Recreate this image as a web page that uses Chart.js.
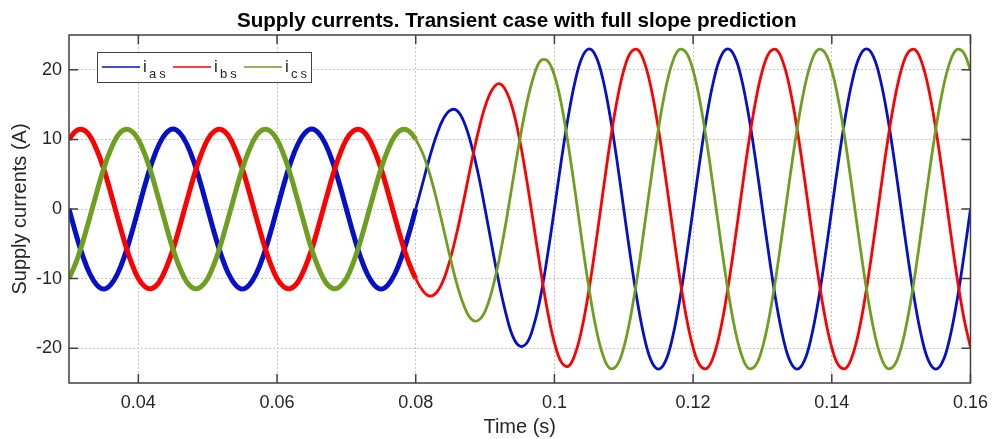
<!DOCTYPE html>
<html>
<head>
<meta charset="utf-8">
<title>Supply currents</title>
<script src="https://cdn.jsdelivr.net/npm/chart.js@4.4.1/dist/chart.umd.min.js"></script>
<style>
    body { margin: 0; background: #fff; }
    #wrap { width: 997px; height: 439px; }
</style>
</head>
<body>
<div id="wrap"><canvas id="currents" width="997" height="439"></canvas></div>
<script>
// time samples (s), one every ms
var TIME = [
    0.030, 0.031, 0.032, 0.033, 0.034, 0.035, 0.036, 0.037, 0.038, 0.039,
    0.040, 0.041, 0.042, 0.043, 0.044, 0.045, 0.046, 0.047, 0.048, 0.049,
    0.050, 0.051, 0.052, 0.053, 0.054, 0.055, 0.056, 0.057, 0.058, 0.059,
    0.060, 0.061, 0.062, 0.063, 0.064, 0.065, 0.066, 0.067, 0.068, 0.069,
    0.070, 0.071, 0.072, 0.073, 0.074, 0.075, 0.076, 0.077, 0.078, 0.079,
    0.080, 0.081, 0.082, 0.083, 0.084, 0.085, 0.086, 0.087, 0.088, 0.089,
    0.090, 0.091, 0.092, 0.093, 0.094, 0.095, 0.096, 0.097, 0.098, 0.099,
    0.100, 0.101, 0.102, 0.103, 0.104, 0.105, 0.106, 0.107, 0.108, 0.109,
    0.110, 0.111, 0.112, 0.113, 0.114, 0.115, 0.116, 0.117, 0.118, 0.119,
    0.120, 0.121, 0.122, 0.123, 0.124, 0.125, 0.126, 0.127, 0.128, 0.129,
    0.130, 0.131, 0.132, 0.133, 0.134, 0.135, 0.136, 0.137, 0.138, 0.139,
    0.140, 0.141, 0.142, 0.143, 0.144, 0.145, 0.146, 0.147, 0.148, 0.149,
    0.150, 0.151, 0.152, 0.153, 0.154, 0.155, 0.156, 0.157, 0.158, 0.159,
    0.160
];

var IAS = [
    0, -3.6, -6.8, -9.3, -10.9, -11.5, -10.9, -9.3, -6.8, -3.6,
    0, 3.6, 6.8, 9.3, 10.9, 11.5, 10.9, 9.3, 6.8, 3.6,
    0, -3.6, -6.8, -9.3, -10.9, -11.5, -10.9, -9.3, -6.8, -3.6,
    0, 3.6, 6.8, 9.3, 10.9, 11.5, 10.9, 9.3, 6.8, 3.6,
    0, -3.6, -6.8, -9.3, -10.9, -11.5, -10.9, -9.3, -6.8, -3.6,
    0, 3.7, 7.4, 10.6, 13.0, 14.2, 14.1, 12.4, 9.3, 5.1,
    0, -5.4, -10.6, -15.0, -18.3, -19.7, -19.3, -16.8, -12.6, -6.7,
    0, 7.0, 13.3, 18.4, 21.8, 23.0, 21.9, 18.6, 13.5, 7.1,
    0, -7.1, -13.5, -18.6, -21.9, -23.0, -21.9, -18.6, -13.5, -7.1,
    0, 7.1, 13.5, 18.6, 21.9, 23.0, 21.9, 18.6, 13.5, 7.1,
    0, -7.1, -13.5, -18.6, -21.9, -23.0, -21.9, -18.6, -13.5, -7.1,
    0, 7.1, 13.5, 18.6, 21.9, 23.0, 21.9, 18.6, 13.5, 7.1,
    0, -7.1, -13.5, -18.6, -21.9, -23.0, -21.9, -18.6, -13.5, -7.1,
    0
];

var IBS = [
    10.0, 11.2, 11.4, 10.5, 8.5, 5.8, 2.4, -1.2, -4.7, -7.7,
    -10.0, -11.2, -11.4, -10.5, -8.5, -5.8, -2.4, 1.2, 4.7, 7.7,
    10.0, 11.2, 11.4, 10.5, 8.5, 5.8, 2.4, -1.2, -4.7, -7.7,
    -10.0, -11.2, -11.4, -10.5, -8.5, -5.8, -2.4, 1.2, 4.7, 7.7,
    10.0, 11.2, 11.4, 10.5, 8.5, 5.8, 2.4, -1.2, -4.7, -7.7,
    -10.0, -11.7, -12.5, -12.0, -10.2, -7.1, -3.1, 1.6, 6.5, 11.0,
    14.7, 17.1, 18.0, 17.0, 14.3, 9.9, 4.2, -2.2, -8.7, -14.6,
    -19.2, -22.0, -22.6, -20.8, -17.0, -11.5, -4.8, 2.4, 9.4, 15.4,
    19.9, 22.5, 22.9, 21.0, 17.1, 11.5, 4.8, -2.4, -9.4, -15.4,
    -19.9, -22.5, -22.9, -21.0, -17.1, -11.5, -4.8, 2.4, 9.4, 15.4,
    19.9, 22.5, 22.9, 21.0, 17.1, 11.5, 4.8, -2.4, -9.4, -15.4,
    -19.9, -22.5, -22.9, -21.0, -17.1, -11.5, -4.8, 2.4, 9.4, 15.4,
    19.9, 22.5, 22.9, 21.0, 17.1, 11.5, 4.8, -2.4, -9.4, -15.4,
    -19.9
];

var ICS = [
    -10.0, -7.7, -4.7, -1.2, 2.4, 5.8, 8.5, 10.5, 11.4, 11.2,
    10.0, 7.7, 4.7, 1.2, -2.4, -5.8, -8.5, -10.5, -11.4, -11.2,
    -10.0, -7.7, -4.7, -1.2, 2.4, 5.8, 8.5, 10.5, 11.4, 11.2,
    10.0, 7.7, 4.7, 1.2, -2.4, -5.8, -8.5, -10.5, -11.4, -11.2,
    -10.0, -7.7, -4.7, -1.2, 2.4, 5.8, 8.5, 10.5, 11.4, 11.2,
    10.0, 8.0, 5.1, 1.4, -2.8, -7.1, -11.0, -14.0, -15.8, -16.0,
    -14.7, -11.7, -7.4, -2.0, 4.0, 9.9, 15.1, 19.0, 21.3, 21.3,
    19.2, 15.1, 9.2, 2.4, -4.8, -11.5, -17.1, -21.0, -22.9, -22.5,
    -19.9, -15.4, -9.4, -2.4, 4.8, 11.5, 17.1, 21.0, 22.9, 22.5,
    19.9, 15.4, 9.4, 2.4, -4.8, -11.5, -17.1, -21.0, -22.9, -22.5,
    -19.9, -15.4, -9.4, -2.4, 4.8, 11.5, 17.1, 21.0, 22.9, 22.5,
    19.9, 15.4, 9.4, 2.4, -4.8, -11.5, -17.1, -21.0, -22.9, -22.5,
    -19.9, -15.4, -9.4, -2.4, 4.8, 11.5, 17.1, 21.0, 22.9, 22.5,
    19.9
];

var SERIES_NAMES = ['as', 'bs', 'cs'];
var XTICKS = [0.04, 0.06, 0.08, 0.1, 0.12, 0.14, 0.16];
var YTICKS = [-20, -10, 0, 10, 20];

var BLUE = '#0510c8';
var RED = '#ff0000';
var GREEN = '#6f9f1f';
var TEXT = '#262626';

// before the step the ripple makes the trace look much thicker
function segWidth(ctx) {
    return ctx.p0DataIndex < 50 ? 5 : 2.8;
}

// box round the axes with inward ticks, like matlab
var axesBox = {
    id: 'axesBox',
    afterDatasetsDraw: function(chart) {
        var c = chart.ctx, a = chart.chartArea;
        var xs = chart.scales.x, ys = chart.scales.y;
        c.save();
        c.strokeStyle = '#404040';
        c.lineWidth = 1.5;
        c.strokeRect(a.left, a.top, a.right - a.left, a.bottom - a.top);
        c.beginPath();
        XTICKS.forEach(function(v) {
            var px = xs.getPixelForValue(v);
            c.moveTo(px, a.bottom); c.lineTo(px, a.bottom - 9);
            c.moveTo(px, a.top); c.lineTo(px, a.top + 9);
        });
        YTICKS.forEach(function(v) {
            var py = ys.getPixelForValue(v);
            c.moveTo(a.left, py); c.lineTo(a.left + 9, py);
            c.moveTo(a.right, py); c.lineTo(a.right - 9, py);
        });
        c.stroke();

        // title, centred on the axes
        c.fillStyle = '#000';
        c.font = 'bold 20.6px "Liberation Sans", Arial, sans-serif';
        c.textAlign = 'center';
        c.textBaseline = 'alphabetic';
        c.fillText('Supply currents. Transient case with full slope prediction', (a.left + a.right) / 2 - 3, 27);
        c.restore();
    }
};

// legend with subscripts
var subLegend = {
    id: 'subLegend',
    afterDraw: function(chart) {
        var c = chart.ctx;
        var bx = 97, by = 52, bw = 214, bh = 30;
        c.save();
        c.fillStyle = '#fff';
        c.fillRect(bx, by, bw, bh);
        c.strokeStyle = '#404040';
        c.lineWidth = 1;
        c.strokeRect(bx + 0.5, by + 0.5, bw, bh);
        var starts = [102, 173, 244];
        chart.data.datasets.forEach(function(ds, i) {
            var x0 = starts[i];
            c.strokeStyle = ds.borderColor;
            c.lineWidth = 1.5;
            c.beginPath();
            c.moveTo(x0, 67);
            c.lineTo(x0 + 38, 67);
            c.stroke();
            c.fillStyle = TEXT;
            c.textAlign = 'left';
            c.textBaseline = 'alphabetic';
            c.font = '17px "Liberation Sans", Arial, sans-serif';
            c.fillText('i', x0 + 41, 72);
            c.font = '13px "Liberation Sans", Arial, sans-serif';
            c.letterSpacing = '3px';
            c.fillText(SERIES_NAMES[i], x0 + 47, 78);
            c.letterSpacing = '0px';
        });
        c.restore();
    }
};

var ctx = document.querySelector('#currents');

var myChart = new Chart(ctx, {
    type: 'line',
    data: {
        labels: TIME,
        datasets: [{
            label: 'ias',
            data: IAS,
            borderColor: BLUE,
            order: 3
        }, {
            label: 'ibs',
            data: IBS,
            borderColor: RED,
            order: 2
        }, {
            label: 'ics',
            data: ICS,
            borderColor: GREEN,
            order: 1
        }]
    },
    options: {
        responsive: false,
        animation: false,
        layout: {
            padding: { top: 35, right: 19, left: 0, bottom: 0 }
        },
        elements: {
            point: { radius: 0 },
            line: { tension: 0.4, borderWidth: 3, fill: false }
        },
        datasets: {
            line: {
                segment: { borderWidth: segWidth }
            }
        },
        plugins: {
            legend: { display: false },
            title: { display: false },
            tooltip: { enabled: false }
        },
        scales: {
            x: {
                type: 'linear',
                min: 0.03,
                max: 0.16,
                afterBuildTicks: function(s) {
                    s.ticks = XTICKS.map(function(v) { return { value: v }; });
                },
                afterFit: function(s) { s.height = 56; },
                ticks: {
                    autoSkip: false,
                    maxRotation: 0,
                    padding: 9,
                    color: TEXT,
                    font: { family: '"Liberation Sans", Arial, sans-serif', size: 18 },
                    callback: function(v) { return String(Number(v.toFixed(2))); }
                },
                grid: { color: '#c4c4c4', lineWidth: 1, drawTicks: false },
                border: { display: false, dash: [2, 2] },
                title: {
                    display: true,
                    text: 'Time (s)',
                    color: TEXT,
                    padding: 0,
                    font: { family: '"Liberation Sans", Arial, sans-serif', size: 20 }
                }
            },
            y: {
                min: -25,
                max: 25,
                afterBuildTicks: function(s) {
                    s.ticks = YTICKS.map(function(v) { return { value: v }; });
                },
                afterFit: function(s) { s.width = 69; },
                ticks: {
                    padding: 7,
                    color: TEXT,
                    font: { family: '"Liberation Sans", Arial, sans-serif', size: 18 },
                    callback: function(v) { return String(v); }
                },
                grid: { color: '#c4c4c4', lineWidth: 1, drawTicks: false },
                border: { display: false, dash: [2, 2] },
                title: {
                    display: true,
                    text: 'Supply currents (A)',
                    color: TEXT,
                    padding: { top: 8, bottom: 0 },
                    font: { family: '"Liberation Sans", Arial, sans-serif', size: 20 }
                }
            }
        }
    },
    plugins: [axesBox, subLegend]
});
</script>
</body>
</html>
